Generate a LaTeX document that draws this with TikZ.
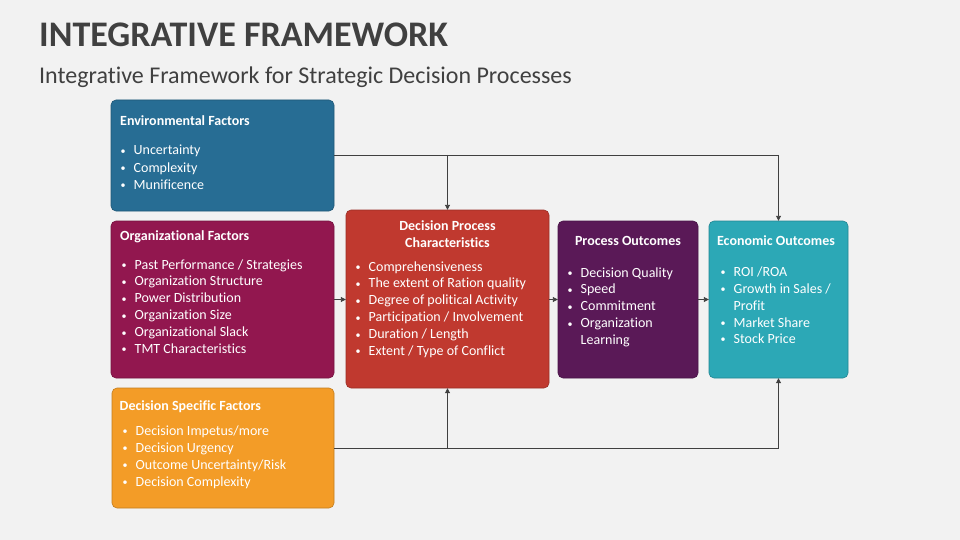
\documentclass[tikz,border=0pt]{standalone}
\usepackage{fontspec}
\setmainfont{Carlito}[Ligatures={NoCommon}]
\usetikzlibrary{arrows.meta}
\definecolor{bg}{HTML}{F2F2F2}
\definecolor{titlec}{HTML}{404040}
\definecolor{envc}{HTML}{276D94}
\definecolor{orgc}{HTML}{92174F}
\definecolor{dpc}{HTML}{C0392F}
\definecolor{dsc}{HTML}{F39C27}
\definecolor{poc}{HTML}{5A1957}
\definecolor{eoc}{HTML}{2CA8B6}
\definecolor{linec}{HTML}{404040}
\tikzset{
  box/.style={rounded corners=5pt, line width=0.6pt},
  hd/.style={text=white, font=\fontsize{14}{17}\selectfont\bfseries, inner sep=0pt},
  item/.style={anchor=base west, text=white, font=\fontsize{14}{17}\selectfont, inner sep=0pt},
  conn/.style={draw=linec, line width=0.9pt},
  arr/.style={conn, -{Triangle[length=5pt,width=5pt]}},
}
\newcommand{\bul}{\makebox[13.5pt][l]{\hspace{0.3pt}\raisebox{0.6pt}{\scalebox{0.72}{\textbullet}}}}
\begin{document}
\begin{tikzpicture}[x=1pt,y=-1pt]
\fill[bg] (0,0) rectangle (960,540);
\useasboundingbox (0,0) rectangle (960,540);
% titles
\node[anchor=base west, inner sep=0pt, text=titlec, font=\fontsize{36}{40}\selectfont\bfseries] (title) at (39,46.7) {INTEGRATIVE FRAMEWORK};
\node[anchor=base west, inner sep=0pt, text=titlec, font=\fontsize{24}{28}\selectfont] (sub) at (39,84) {Integrative Framework for Strategic Decision Processes};
% boxes
\draw[box, fill=envc, draw=envc!80!black] (111,100) rectangle (334,211);
\node[inner sep=0pt, minimum width=223pt, minimum height=111pt] (env) at (222.5,155.5) {};
\draw[box, fill=orgc, draw=orgc!80!black] (111,221) rectangle (334,378);
\node[inner sep=0pt, minimum width=223pt, minimum height=157pt] (org) at (222.5,299.5) {};
\draw[box, fill=dsc, draw=dsc!80!black] (112,388) rectangle (334,508);
\node[inner sep=0pt, minimum width=222pt, minimum height=120pt] (ds) at (223,448) {};
\draw[box, fill=dpc, draw=dpc!80!black] (346,210) rectangle (549,388);
\node[inner sep=0pt, minimum width=203pt, minimum height=178pt] (dp) at (447.5,299) {};
\draw[box, fill=poc, draw=poc!80!black] (558,221) rectangle (698,378);
\node[inner sep=0pt, minimum width=140pt, minimum height=157pt] (po) at (628,299.5) {};
\draw[box, fill=eoc, draw=eoc!80!black] (709,221) rectangle (848,378);
\node[inner sep=0pt, minimum width=139pt, minimum height=157pt] (eo) at (778.5,299.5) {};
% connectors
\coordinate (j1) at (447.5,155);
\coordinate (j2) at (778.5,155);
\coordinate (j3) at (447.5,448);
\coordinate (j4) at (778.5,448);
\draw[conn] (env.east |- j1) -- (j2);
\draw[arr] (j2) -- (eo.north);
\draw[arr] (j1) -- (dp.north);
\draw[conn] (ds.east |- j3) -- (j4);
\draw[arr] (j4) -- (eo.south);
\draw[arr] (j3) -- (dp.south);
\draw[arr] (org.east) -- (dp.west |- org.east);
\draw[arr] (dp.east |- org.east) -- (po.west |- org.east);
\draw[arr] (po.east |- org.east) -- (eo.west |- org.east);
% environmental
\node[hd, anchor=base west] (envh) at (120,125.7) {Environmental Factors};
\foreach \t [count=\i from 0] in {Uncertainty, Complexity, Munificence}
  \node[item] (envi\i) at (120,155+17.1*\i) {\bul\t};
% organizational
\node[hd, anchor=base west] (orgh) at (120,240) {Organizational Factors};
\foreach \t [count=\i from 0] in {Past Performance / Strategies, Organization Structure, Power Distribution, Organization Size, Organizational Slack, TMT Characteristics}
  \node[item] (orgi\i) at (121,269+16.9*\i) {\bul\t};
% decision specific
\node[hd, anchor=base west] (dsh) at (119.5,410) {Decision Specific Factors};
\foreach \t [count=\i from 0] in {Decision Impetus/more, Decision Urgency, Outcome Uncertainty/Risk, Decision Complexity}
  \node[item] (dsi\i) at (122,435+17*\i) {\bul\t};
% decision process
\node[hd, align=center, anchor=north] (dph) at (447.5,220.5) {Decision Process\\Characteristics};
\foreach \t [count=\i from 0] in {Comprehensiveness, The extent of Ration quality, Degree of political Activity, Participation / Involvement, Duration / Length, Extent / Type of Conflict}
  \node[item] (dpi\i) at (355,271+16.9*\i) {\bul\t};
% process outcomes
\node[hd, anchor=base] (poh) at (628,245) {Process Outcomes};
\foreach \t [count=\i from 0] in {Decision Quality, Speed, Commitment, Organization}
  \node[item] (poi\i) at (567,277+16.9*\i) {\bul\t};
\node[item] (poi4) at (580.5,344.6) {Learning};
% economic outcomes
\node[hd, anchor=base] (eoh) at (776,245) {Economic Outcomes};
\node[item] (eoi0) at (720,276) {\bul ROI /ROA};
\node[item] (eoi1) at (720,293) {\bul Growth in Sales /};
\node[item] (eoi2) at (733.5,310) {Profit};
\node[item] (eoi3) at (720,327) {\bul Market Share};
\node[item] (eoi4) at (720,343.5) {\bul Stock Price};
\end{tikzpicture}
\end{document}
